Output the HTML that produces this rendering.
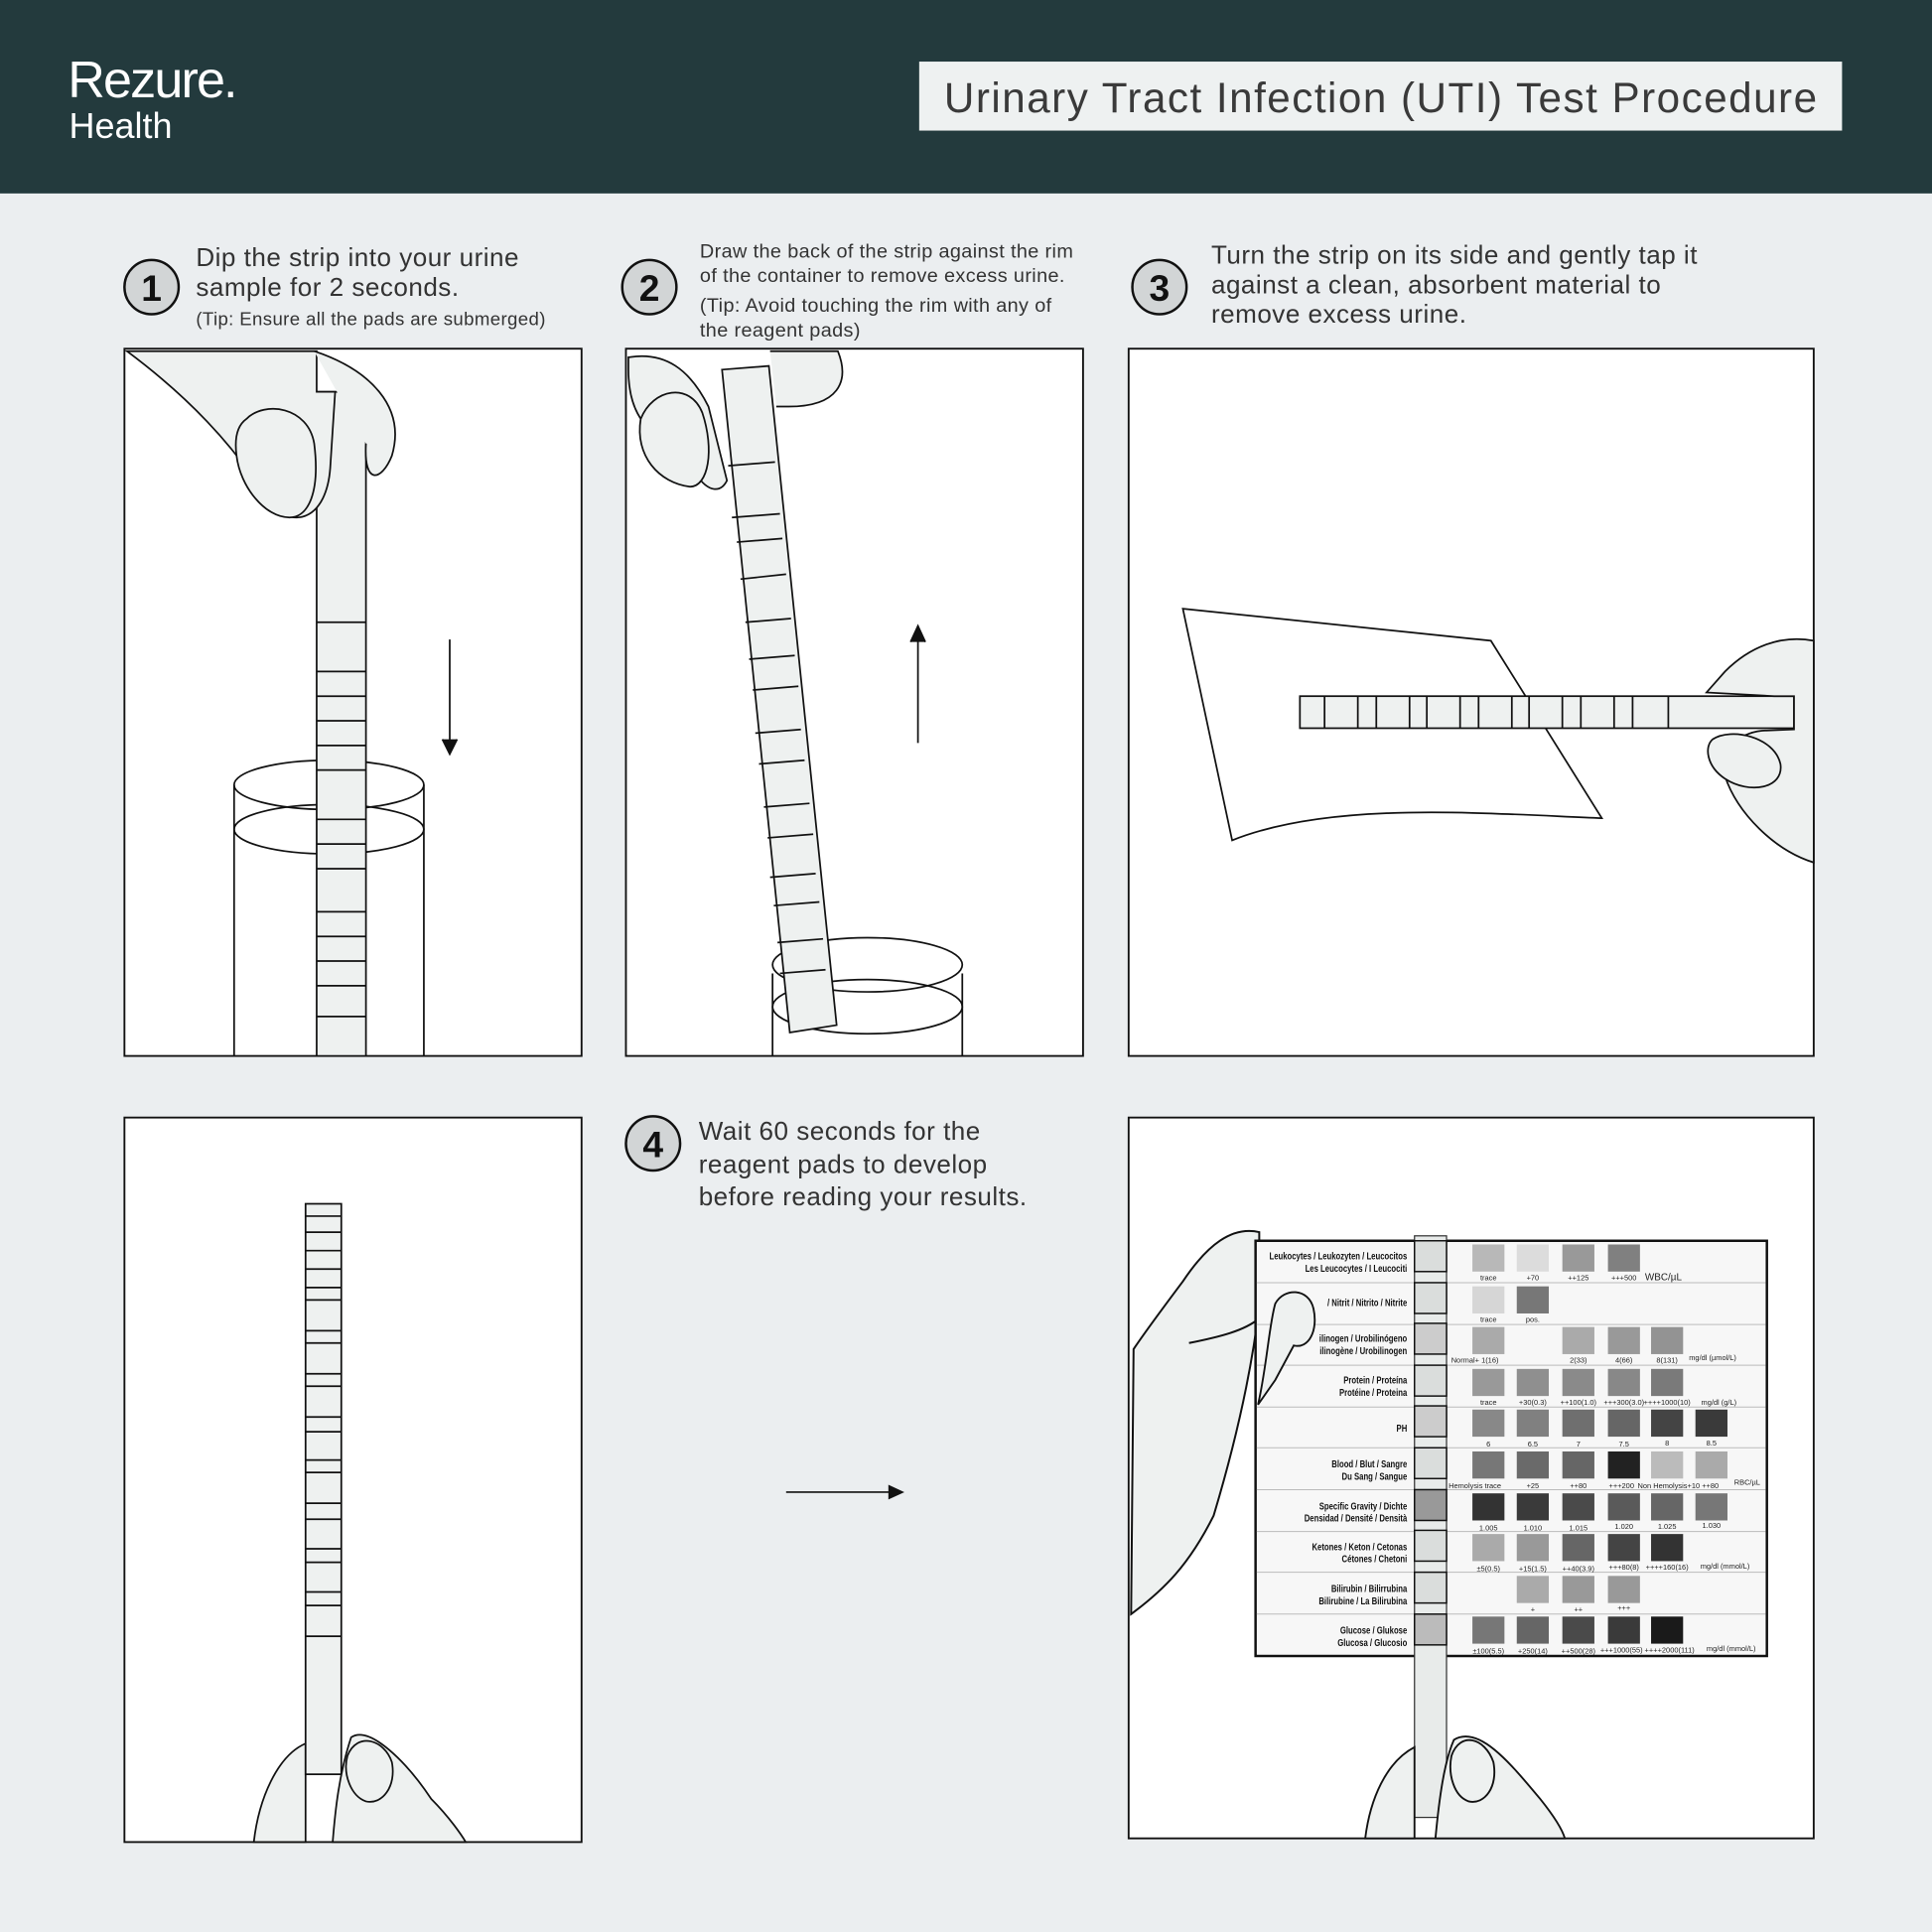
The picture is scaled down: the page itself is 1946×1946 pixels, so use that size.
<!DOCTYPE html>
<html><head><meta charset="utf-8"><style>
html,body{margin:0;padding:0;background:#ebeef0}
svg{display:block}
text{font-family:"Liberation Sans",sans-serif}
</style></head><body>
<svg width="1946" height="1946" viewBox="0 0 1568 1568" xmlns="http://www.w3.org/2000/svg">
<rect width="1568" height="1568" fill="#ebeef0"/>
<rect width="1568" height="157" fill="#233a3d"/>
<text x="55" y="79" fill="#fff" font-size="42" letter-spacing="-1.5">Rezure.</text>
<text x="56" y="112" fill="#fff" font-size="29">Health</text>
<rect x="746" y="50" width="749" height="56" fill="#eef1f1"/>
<text x="1121" y="91" fill="#3a3a3a" font-size="34" text-anchor="middle" letter-spacing="1.2">Urinary Tract Infection (UTI) Test Procedure</text>

<g fill="#d2d5d6" stroke="#111" stroke-width="2">
<circle cx="123" cy="233" r="22"/><circle cx="527" cy="233" r="22"/><circle cx="941" cy="233" r="22"/><circle cx="530" cy="928" r="22"/>
</g>
<g font-size="30" font-weight="bold" text-anchor="middle" fill="#111">
<text x="123" y="244">1</text><text x="527" y="244">2</text><text x="941" y="244">3</text><text x="530" y="939">4</text>
</g>
<g fill="#333">
<text x="159" y="216" font-size="21" letter-spacing="0.4">Dip the strip into your urine</text>
<text x="159" y="240" font-size="21" letter-spacing="0.4">sample for 2 seconds.</text>
<text x="159" y="264" font-size="15" letter-spacing="0.3">(Tip: Ensure all the pads are submerged)</text>
<text x="568" y="209" font-size="16" letter-spacing="0.3">Draw the back of the strip against the rim</text>
<text x="568" y="229" font-size="16" letter-spacing="0.3">of the container to remove excess urine.</text>
<text x="568" y="253" font-size="16" letter-spacing="0.3">(Tip: Avoid touching the rim with any of</text>
<text x="568" y="273" font-size="16" letter-spacing="0.3">the reagent pads)</text>
<text x="983" y="214" font-size="21" letter-spacing="0.4">Turn the strip on its side and gently tap it</text>
<text x="983" y="238" font-size="21" letter-spacing="0.4">against a clean, absorbent material to</text>
<text x="983" y="262" font-size="21" letter-spacing="0.4">remove excess urine.</text>
<text x="567" y="925" font-size="21" letter-spacing="0.4">Wait 60 seconds for the</text>
<text x="567" y="952" font-size="21" letter-spacing="0.4">reagent pads to develop</text>
<text x="567" y="978" font-size="21" letter-spacing="0.4">before reading your results.</text>
</g>

<g fill="#fff" stroke="#111" stroke-width="1.5">
<rect x="101" y="283" width="371" height="574"/>
<rect x="508" y="283" width="371" height="574"/>
<rect x="916" y="283" width="556" height="574"/>
<rect x="101" y="907" width="371" height="588"/>
<rect x="916" y="907" width="556" height="585"/>
</g>

<!-- panel 1 -->
<g stroke="#111" stroke-width="1.4" fill="none">
<ellipse cx="267" cy="637" rx="77" ry="20"/><ellipse cx="267" cy="673" rx="77" ry="20"/>
<line x1="190" y1="637" x2="190" y2="857"/><line x1="344" y1="637" x2="344" y2="857"/>
<rect x="257" y="318" width="40" height="539" fill="#eef1f0"/>
<path d="M257 505H297M257 545H297M257 565H297M257 585H297M257 605H297M257 625H297M257 665H297M257 685H297M257 705H297M257 740H297M257 760H297M257 780H297M257 800H297M257 825H297"/>
<path d="M103 285 C150 320 190 360 220 410 C240 430 265 420 268 380 L272 318 H257 V285 Z" fill="#eef1f0"/>
<path d="M200 340 C215 325 250 330 255 360 C260 400 250 420 235 420 C215 420 195 395 192 370 C190 355 193 345 200 340Z" fill="#eef1f0"/>
<path d="M255 285 C300 300 330 330 318 370 C310 390 295 395 297 360" fill="#eef1f0"/>
<line x1="365" y1="519" x2="365" y2="610"/>
<path d="M359 600 L365 612 L371 600" fill="#111"/>
</g>

<!-- panel 2 -->
<g stroke="#111" stroke-width="1.4" fill="none">
<line x1="627" y1="790" x2="627" y2="857"/><line x1="781" y1="790" x2="781" y2="857"/>
<ellipse cx="704" cy="783" rx="77" ry="22"/><ellipse cx="704" cy="817" rx="77" ry="22"/>
<polygon points="586,300 624,297 679,832 641,838" fill="#eef1f0"/>
<path d="M591 378L629 375M594 420L633 417M598 440L635 437M601 470L638 466M605 505L642 502M608 535L645 532M611 560L648 557M613 595L650 592M616 620L653 617M620 655L657 652M623 680L660 677M625 712L662 709M628 735L665 732M631 765L668 762M633 790L670 787"/>
<path d="M510 290 C540 285 560 300 575 330 L590 390 C585 400 575 400 565 385 L540 360 C520 345 510 330 510 300Z" fill="#eef1f0"/>
<path d="M520 340 C530 315 560 310 570 335 C580 365 575 395 560 395 C535 392 515 370 520 340Z" fill="#eef1f0"/>
<path d="M625 285 L680 285 C690 310 680 330 640 330 L630 330" fill="#eef1f0"/>
<line x1="745" y1="603" x2="745" y2="510"/>
<path d="M739 521 L745 508 L751 521" fill="#111"/>
</g>

<!-- panel 3 -->
<g stroke="#111" stroke-width="1.4" fill="none">
<path d="M960 494 L1210 520 L1300 664 C1200 660 1080 650 1000 682 Z" fill="#fff"/>
<rect x="1055" y="565" width="401" height="26" fill="#eef1f0"/>
<path d="M1075 565V591M1102 565V591M1117 565V591M1144 565V591M1158 565V591M1185 565V591M1200 565V591M1227 565V591M1241 565V591M1268 565V591M1283 565V591M1310 565V591M1325 565V591M1354 565V591"/>
<path d="M1472 520 C1445 515 1420 525 1400 545 L1385 562 L1440 565 L1456 565 L1456 592 L1430 593 C1410 595 1395 610 1400 630 C1410 660 1440 690 1472 700 Z" fill="#eef1f0"/>
<path d="M1390 600 C1405 590 1440 598 1445 620 C1448 640 1420 645 1400 632 C1385 622 1383 606 1390 600Z" fill="#eef1f0"/>
</g>

<!-- panel 4 -->
<g stroke="#111" stroke-width="1.4" fill="none">
<path d="M206 1495 C210 1460 225 1425 248 1415 L248 1495Z" fill="#eef1f0"/>
<rect x="248" y="977" width="29" height="463" fill="#eef1f0"/>
<path d="M248 987H277M248 1000H277M248 1015H277M248 1030H277M248 1045H277M248 1055H277M248 1080H277M248 1090H277M248 1115H277M248 1125H277M248 1150H277M248 1162H277M248 1185H277M248 1195H277M248 1220H277M248 1233H277M248 1257H277M248 1268H277M248 1292H277M248 1303H277M248 1328H277"/>
<path d="M270 1495 C272 1470 275 1440 285 1410 C300 1400 330 1430 350 1460 C365 1475 375 1490 378 1495Z" fill="#eef1f0"/>
<path d="M282 1425 C290 1405 312 1412 318 1430 C322 1450 310 1465 297 1462 C285 1458 278 1440 282 1425Z" fill="#eef1f0"/>
</g>
<line x1="638" y1="1211" x2="725" y2="1211" stroke="#111" stroke-width="1.4"/>
<path d="M721 1205 L734 1211 L721 1217Z" fill="#111"/>

<!-- panel 5 -->
<g stroke="#111" stroke-width="1.6" fill="#eef1f0">
<path d="M918 1310 C945 1290 965 1270 985 1230 C1000 1180 1015 1120 1022 1060 L1022 1000 C1000 995 980 1010 960 1040 C945 1060 930 1080 920 1095 L918 1310Z"/>
<path d="M965 1090 C990 1085 1010 1080 1022 1070"/>
</g>
<rect x="1019" y="1007" width="415" height="337" fill="#f7f7f7" stroke="#111" stroke-width="2"/>
<g stroke="#bbb" stroke-width="0.8">
<path d="M1020 1041H1433M1020 1075H1433M1020 1108H1433M1020 1142H1433M1020 1175H1433M1020 1209H1433M1020 1243H1433M1020 1276H1433M1020 1310H1433"/>
</g>
<path d="M1021 1140 C1028 1110 1030 1075 1035 1058 C1042 1045 1062 1045 1066 1062 C1070 1080 1062 1095 1050 1092 L1035 1120 Z" stroke="#111" stroke-width="1.5" fill="#eef1f0"/>
<rect x="1148" y="1003" width="26" height="472" fill="#e8ebea" stroke="#333" stroke-width="1"/>
<g stroke="#111" stroke-width="1.2" fill="#dadddc">
<rect x="1148" y="1007" width="26" height="25"/><rect x="1148" y="1041" width="26" height="25"/><rect x="1148" y="1074" width="26" height="25" fill="#ccc"/><rect x="1148" y="1108" width="26" height="25"/><rect x="1148" y="1141" width="26" height="25" fill="#ccc"/><rect x="1148" y="1175" width="26" height="25"/><rect x="1148" y="1209" width="26" height="25" fill="#999"/><rect x="1148" y="1242" width="26" height="25"/><rect x="1148" y="1276" width="26" height="25"/><rect x="1148" y="1310" width="26" height="25" fill="#bbb"/>
</g>
<g font-size="8" font-weight="bold" text-anchor="end" fill="#111" transform="translate(1142,0) scale(0.78,1) translate(-1142,0)">
<text x="1142" y="1022">Leukocytes / Leukozyten / Leucocitos</text><text x="1142" y="1032">Les Leucocytes / I Leucociti</text>
<text x="1142" y="1060">/ Nitrit / Nitrito / Nitrite</text>
<text x="1142" y="1089">ilinogen / Urobilinógeno</text><text x="1142" y="1099">ilinogène / Urobilinogen</text>
<text x="1142" y="1123">Protein / Proteína</text><text x="1142" y="1133">Protéine / Proteina</text>
<text x="1142" y="1162">PH</text>
<text x="1142" y="1191">Blood / Blut / Sangre</text><text x="1142" y="1201">Du Sang / Sangue</text>
<text x="1142" y="1225">Specific Gravity / Dichte</text><text x="1142" y="1235">Densidad / Densité / Densità</text>
<text x="1142" y="1258">Ketones / Keton / Cetonas</text><text x="1142" y="1268">Cétones / Chetoni</text>
<text x="1142" y="1292">Bilirubin / Bilirrubina</text><text x="1142" y="1302">Bilirubine / La Bilirubina</text>
<text x="1142" y="1326">Glucose / Glukose</text><text x="1142" y="1336">Glucosa / Glucosio</text>
</g>
<g>
<rect x="1195" y="1010" width="26" height="22" fill="#b8b8b8"/><rect x="1231" y="1010" width="26" height="22" fill="#dcdcdc"/><rect x="1268" y="1010" width="26" height="22" fill="#999"/><rect x="1305" y="1010" width="26" height="22" fill="#808080"/>
<rect x="1195" y="1044" width="26" height="22" fill="#d6d6d6"/><rect x="1231" y="1044" width="26" height="22" fill="#777"/>
<rect x="1195" y="1077" width="26" height="22" fill="#aaa"/><rect x="1268" y="1077" width="26" height="22" fill="#aaa"/><rect x="1305" y="1077" width="26" height="22" fill="#999"/><rect x="1340" y="1077" width="26" height="22" fill="#939393"/>
<rect x="1195" y="1111" width="26" height="22" fill="#999"/><rect x="1231" y="1111" width="26" height="22" fill="#8f8f8f"/><rect x="1268" y="1111" width="26" height="22" fill="#8a8a8a"/><rect x="1305" y="1111" width="26" height="22" fill="#888"/><rect x="1340" y="1111" width="26" height="22" fill="#7a7a7a"/>
<rect x="1195" y="1144" width="26" height="22" fill="#888"/><rect x="1231" y="1144" width="26" height="22" fill="#808080"/><rect x="1268" y="1144" width="26" height="22" fill="#6f6f6f"/><rect x="1305" y="1144" width="26" height="22" fill="#666"/><rect x="1340" y="1144" width="26" height="22" fill="#444"/><rect x="1376" y="1144" width="26" height="22" fill="#3a3a3a"/>
<rect x="1195" y="1178" width="26" height="22" fill="#777"/><rect x="1231" y="1178" width="26" height="22" fill="#6a6a6a"/><rect x="1268" y="1178" width="26" height="22" fill="#666"/><rect x="1305" y="1178" width="26" height="22" fill="#222"/><rect x="1340" y="1178" width="26" height="22" fill="#bbb"/><rect x="1376" y="1178" width="26" height="22" fill="#aaa"/>
<rect x="1195" y="1212" width="26" height="22" fill="#333"/><rect x="1231" y="1212" width="26" height="22" fill="#3a3a3a"/><rect x="1268" y="1212" width="26" height="22" fill="#4a4a4a"/><rect x="1305" y="1212" width="26" height="22" fill="#5a5a5a"/><rect x="1340" y="1212" width="26" height="22" fill="#666"/><rect x="1376" y="1212" width="26" height="22" fill="#777"/>
<rect x="1195" y="1245" width="26" height="22" fill="#aaa"/><rect x="1231" y="1245" width="26" height="22" fill="#999"/><rect x="1268" y="1245" width="26" height="22" fill="#666"/><rect x="1305" y="1245" width="26" height="22" fill="#444"/><rect x="1340" y="1245" width="26" height="22" fill="#333"/>
<rect x="1231" y="1279" width="26" height="22" fill="#aaa"/><rect x="1268" y="1279" width="26" height="22" fill="#999"/><rect x="1305" y="1279" width="26" height="22" fill="#999"/>
<rect x="1195" y="1312" width="26" height="22" fill="#777"/><rect x="1231" y="1312" width="26" height="22" fill="#666"/><rect x="1268" y="1312" width="26" height="22" fill="#4a4a4a"/><rect x="1305" y="1312" width="26" height="22" fill="#3a3a3a"/><rect x="1340" y="1312" width="26" height="22" fill="#1a1a1a"/>
</g>
<g font-size="6" fill="#222" text-anchor="middle">
<text x="1208" y="1039">trace</text><text x="1244" y="1039">+70</text><text x="1281" y="1039">++125</text><text x="1318" y="1039">+++500</text><text x="1350" y="1039" font-size="8">WBC/µL</text>
<text x="1208" y="1073">trace</text><text x="1244" y="1073">pos.</text>
<text x="1197" y="1106">Normal+ 1(16)</text><text x="1281" y="1106">2(33)</text><text x="1318" y="1106">4(66)</text><text x="1353" y="1106">8(131)</text><text x="1390" y="1104">mg/dl (µmol/L)</text>
<text x="1208" y="1140">trace</text><text x="1244" y="1140">+30(0.3)</text><text x="1281" y="1140">++100(1.0)</text><text x="1318" y="1140">+++300(3.0)</text><text x="1353" y="1140">++++1000(10)</text><text x="1395" y="1140">mg/dl (g/L)</text>
<text x="1208" y="1174">6</text><text x="1244" y="1174">6.5</text><text x="1281" y="1174">7</text><text x="1318" y="1174">7.5</text><text x="1353" y="1173">8</text><text x="1389" y="1173">8.5</text>
<text x="1197" y="1208">Hemolysis trace</text><text x="1244" y="1208">+25</text><text x="1281" y="1208">++80</text><text x="1316" y="1208">+++200</text><text x="1362" y="1208">Non Hemolysis+10 ++80</text><text x="1418" y="1205">RBC/µL</text>
<text x="1208" y="1242">1.005</text><text x="1244" y="1242">1.010</text><text x="1281" y="1242">1.015</text><text x="1318" y="1241">1.020</text><text x="1353" y="1241">1.025</text><text x="1389" y="1240">1.030</text>
<text x="1208" y="1275">±5(0.5)</text><text x="1244" y="1275">+15(1.5)</text><text x="1281" y="1275">++40(3.9)</text><text x="1318" y="1274">+++80(8)</text><text x="1353" y="1274">++++160(16)</text><text x="1400" y="1273">mg/dl (mmol/L)</text>
<text x="1244" y="1308">+</text><text x="1281" y="1308">++</text><text x="1318" y="1307">+++</text>
<text x="1208" y="1342">±100(5.5)</text><text x="1244" y="1342">+250(14)</text><text x="1281" y="1342">++500(28)</text><text x="1316" y="1341">+++1000(55)</text><text x="1355" y="1341">++++2000(111)</text><text x="1405" y="1340">mg/dl (mmol/L)</text>
</g>
<g stroke="#111" stroke-width="1.5" fill="#eef1f0">
<path d="M1108 1492 C1112 1460 1125 1430 1148 1418 L1148 1492Z"/>
<path d="M1165 1492 C1168 1460 1172 1430 1180 1412 C1200 1400 1225 1430 1250 1460 C1262 1475 1268 1485 1270 1492Z"/>
<path d="M1178 1425 C1185 1405 1205 1410 1212 1430 C1216 1450 1205 1465 1192 1462 C1180 1458 1175 1440 1178 1425Z"/>
</g>
</svg>
</body></html>
